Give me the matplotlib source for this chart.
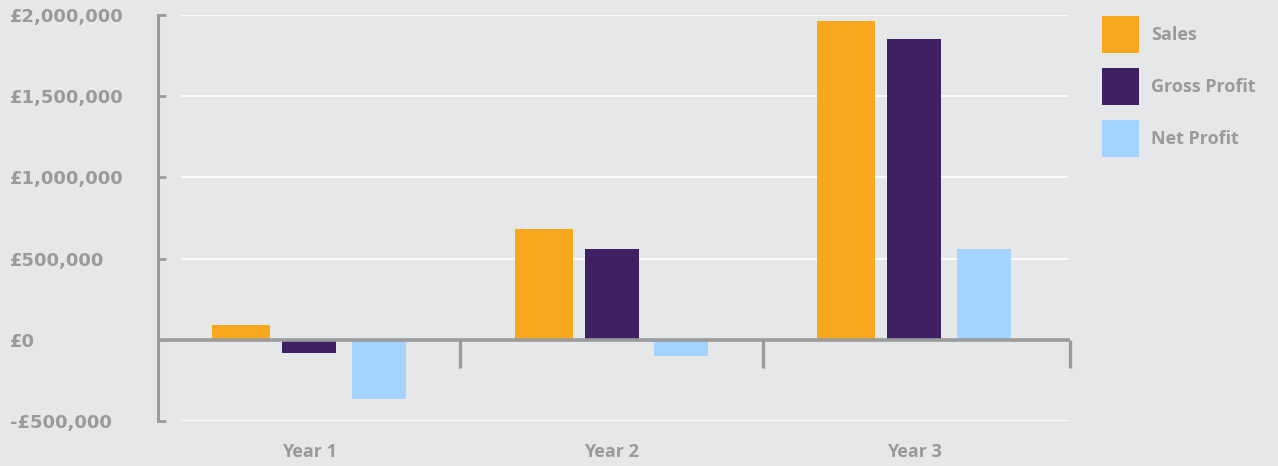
import matplotlib
matplotlib.use("Agg")
import matplotlib.pyplot as plt
import numpy as np

years = ["Year 1", "Year 2", "Year 3"]
series_names = ["Sales", "Gross Profit", "Net Profit"]
sales = [90000, 680000, 1960000]
gross_profit = [-80000, 560000, 1850000]
net_profit = [-365000, -100000, 560000]
y_ticks = [-500000, 0, 500000, 1000000, 1500000, 2000000]
y_labels = ["-£500,000", "£0", "£500,000", "£1,000,000", "£1,500,000", "£2,000,000"]

BG = "#e6e7e9"
GREY = "#9b9b9b"
TEXT = "#9a9a9a"
colors = ["#f9a81e", "#3f2063", "#a4d4fe"]
offsets = [-0.225, 0.0, 0.23]
widths = [0.192, 0.178, 0.178]

plt.rcParams["font.family"] = ["DejaVu Sans"]
LABEL_FONT = ["Open Sans", "DejaVu Sans"]

W, H = 1278, 466
fig = plt.figure(figsize=(W / 100, H / 100), dpi=100, facecolor=BG)
ax = fig.add_axes([158 / W, 1 - 421 / H, (1070 - 158) / W, (421 - 15) / H])
ax.set_facecolor(BG)

x = np.arange(len(years))
right = 2.515
ax.set_xlim(-0.5, right)
ax.set_ylim(-500000, 2000000)

# white gridlines, inset from the axis
ax.hlines([t for t in y_ticks if t != 0], -0.425, 2.51, colors="white", lw=1.3, zorder=1)

for vals, name, c, off, w in zip([sales, gross_profit, net_profit], series_names, colors, offsets, widths):
    ax.bar(x + off, vals, width=w, color=c, label=name, zorder=3)

# zero line with category separators
ax.axhline(0, color=GREY, lw=2.6, zorder=4)
ax.vlines([0.5, 1.5, right], -173000, 0, colors=GREY, lw=2.4, zorder=4, clip_on=False)

for s in ["top", "right", "bottom"]:
    ax.spines[s].set_visible(False)
ax.spines["left"].set_color(GREY)
ax.spines["left"].set_linewidth(2.2)

ax.set_yticks(y_ticks)
ax.set_yticklabels(y_labels)
ax.tick_params(axis="y", direction="in", length=6, width=2, color=GREY,
               pad=148 * 0.72, labelsize=13, labelcolor=TEXT)
for lab in ax.get_yticklabels():
    lab.set_ha("left")
    lab.set_fontweight("bold")

ax.set_xticks(x)
ax.set_xticklabels(years)
ax.tick_params(axis="x", length=0, pad=15.5, labelsize=13, labelcolor=TEXT)
for lab in ax.get_xticklabels():
    lab.set_family(LABEL_FONT)
    lab.set_fontweight("bold")

leg = fig.legend(loc="upper left", bbox_to_anchor=(1102 / W, 1 - 16 / H),
                 frameon=False, prop={"family": LABEL_FONT, "weight": "bold", "size": 13},
                 handlelength=2.05, handleheight=2.776,
                 handletextpad=0.66, labelspacing=0.83, borderpad=0, borderaxespad=0)
for t in leg.get_texts():
    t.set_color(TEXT)

fig.savefig("out.png", dpi=100, facecolor=BG)
